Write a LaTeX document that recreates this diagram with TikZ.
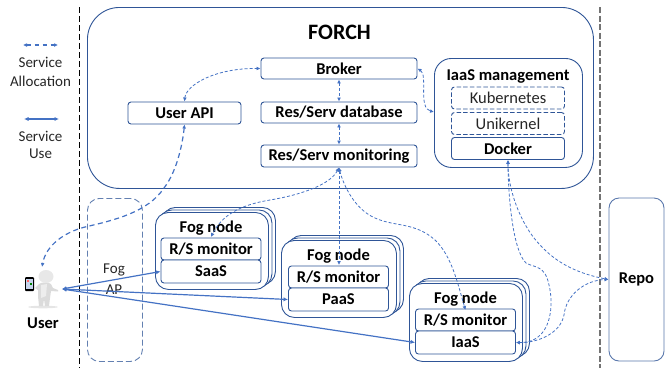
\documentclass[tikz,border=0pt]{standalone}
\usepackage{fontspec}
\setmainfont{Carlito}
\usetikzlibrary{arrows.meta}
\definecolor{edge}{HTML}{2F5597}
\definecolor{arrowblue}{HTML}{4472C4}
\definecolor{txt}{HTML}{262626}
\tikzset{
  x=1pt,y=-1pt,
  rbox/.style={draw=edge,line width=0.9pt,rounded corners=3pt,inner sep=0pt,fill=white,font=\bfseries\fontsize{16.5}{18}\selectfont,text=black},
  dbox/.style={rbox,dashed,dash pattern=on 4.5pt off 2.2pt,font=\fontsize{16.5}{18}\selectfont,text=txt},
  pane/.style={draw=edge,line width=0.9pt,fill=white,inner sep=0pt},
  ttl/.style={font=\bfseries\fontsize{16.5}{18}\selectfont,inner sep=0pt},
  plain/.style={font=\fontsize{15}{17}\selectfont,text=txt,inner sep=0pt},
  alloc/.style={draw=arrowblue,line width=0.8pt,dash pattern=on 3pt off 2pt,{Latex[length=4pt,width=3.8pt]}-{Latex[length=4pt,width=3.8pt]}},
  allocthick/.style={alloc,line width=1.2pt,dash pattern=on 5pt off 3.5pt},
  use/.style={draw=arrowblue,line width=1.2pt,{Latex[length=4.5pt,width=4.2pt]}-{Latex[length=4.5pt,width=4.2pt]}},
}
\newcommand{\fognode}[7]{%
 \node[pane,rounded corners=13pt,minimum width=#3pt-#2pt,minimum height=#5pt-#4pt,anchor=north west] (#1b) at (#2+7,#4-5) {};
 \node[pane,rounded corners=13pt,minimum width=#3pt-#2pt,minimum height=#5pt-#4pt,anchor=north west] (#1m) at (#2+3.5,#4-2.5) {};
 \node[pane,rounded corners=13pt,minimum width=#3pt-#2pt,minimum height=#5pt-#4pt,anchor=north west] (#1) at (#2,#4) {};
 \node[ttl] (#1t) at (#6,#4+16) {Fog node};
 \node[rbox,minimum width=100pt,minimum height=22pt] (#1r) at (#6,#4+37) {R/S monitor};
 \node[rbox,minimum width=100pt,minimum height=23pt] (#1s) at (#6,#4+59.5) {#7};
}
\begin{document}
\begin{tikzpicture}
\useasboundingbox (0,0) rectangle (668,368);
\coordinate (sepAt) at (79,7); \coordinate (sepAb) at (79,368);
\coordinate (sepBt) at (600,7); \coordinate (sepBb) at (600,368);
\draw[black,line width=0.9pt,dash pattern=on 6pt off 3pt] (sepAt) -- (sepAb);
\draw[black!55,line width=1.6pt,dash pattern=on 6pt off 2.5pt] (sepBt) -- (sepBb);
\node[pane,rounded corners=32pt,minimum width=506pt,minimum height=181pt,anchor=north west] (forch) at (87,7) {};
\node[font=\bfseries\fontsize{22}{24}\selectfont,inner sep=0pt] (forcht) at (339.5,32) {FORCH};
\node[rbox,minimum width=156pt,minimum height=21pt] (broker) at (339,68.5) {Broker};
\node[rbox,minimum width=156pt,minimum height=21pt] (db) at (339,112.5) {Res/Serv database};
\node[rbox,minimum width=156pt,minimum height=22pt] (mon) at (339,156) {Res/Serv monitoring};
\node[rbox,minimum width=113pt,minimum height=22pt] (api) at (184.5,113) {User API};
\node[pane,rounded corners=17pt,minimum width=148pt,minimum height=109pt,anchor=north west] (iaasm) at (434,58) {};
\node[ttl] (iaast) at (508,76) {IaaS management};
\node[dbox,minimum width=113pt,minimum height=22pt] (kub) at (508,98) {Kubernetes};
\node[dbox,minimum width=113pt,minimum height=22pt] (uni) at (508,123.5) {Unikernel};
\node[rbox,minimum width=113pt,minimum height=22pt] (dock) at (508,148.5) {Docker};
\node[draw=edge!75,line width=0.9pt,dash pattern=on 6pt off 3pt,rounded corners=12pt,minimum width=55pt,minimum height=163pt,anchor=north west,inner sep=0pt] (ap) at (87,198) {};
\node[plain] (apa) at (114,270) {Fog};
\node[plain] (apb) at (114,290) {AP};
\node[rbox,rounded corners=10pt,minimum width=55pt,minimum height=163pt,draw=edge!80] (repo) at (636.5,279.5) {Repo};
\fognode{fa}{155}{268}{212}{289}{211}{SaaS}
\fognode{fb}{281}{396}{240}{317}{338.5}{PaaS}
\fognode{fc}{409}{522}{283}{361}{465.5}{IaaS}
\node[ttl] (user) at (43,323) {User};
\fill[black!10] (43,307) ellipse (15pt and 1.3pt);
\fill[black!14] (39,284) .. controls (41,282) and (49,282) .. (51,284) -- (53,288) -- (58,290) -- (58,291.5) -- (51,291) -- (50,298) -- (49,306) -- (45,306) -- (44,299) -- (43,306) -- (39,306) -- (38,296) -- (38,290) -- (35,288) -- cycle;
\fill[black!9] (46,276.5) ellipse (7.5pt and 6.5pt);
\fill[black!7] (41,298) -- (41,285) -- (47,284) -- (46,296) -- cycle;
\fill[black,rounded corners=1pt] (25,277) rectangle (34,291);
\fill[white!70!arrowblue] (26.2,279) rectangle (32.8,288.5);
\fill[red!60] (27,280) rectangle (29,282);
\fill[green!50!black] (30,283) rectangle (32,285);
\coordinate (hand) at (62,289);
\coordinate (phonetop) at (42,267);
\coordinate (la) at (23,45); \coordinate (lb) at (58,45);
\coordinate (lc) at (24,119); \coordinate (ld) at (59,119);
\draw[alloc,line width=1.2pt,dash pattern=on 4.5pt off 3.5pt] (la) -- (lb);
\draw[use] (lc) -- (ld);
\node[plain] (l1) at (40.5,62) {Service};
\node[plain] (l2) at (40.5,81) {Allocation};
\node[plain] (l3) at (40.5,136) {Service};
\node[plain] (l4) at (40.5,154) {Use};
\coordinate (faIn) at (211,237);
\coordinate (fbIn) at (339,265);
\coordinate (fcIn) at (465.5,310);
\draw[alloc] (api.north) .. controls (186,85) and (215,68) .. (broker.west);
\draw[allocthick] (api.south) .. controls (183,140) and (178,170) .. (164,188) .. controls (148,212) and (115,220) .. (85,227) .. controls (65,232) and (46,245) .. (phonetop);
\draw[alloc] (broker.east) .. controls (428,75) and (418,108) .. (434,112);
\draw[alloc] (broker.south) -- (db.north);
\draw[alloc] (db.south) -- (mon.north);
\draw[alloc] (mon.south) -- (fbIn);
\draw[alloc] (mon.south) .. controls (330,185) and (300,195) .. (270,200) .. controls (240,205) and (222,215) .. (faIn);
\draw[alloc] (mon.south) .. controls (342,180) and (352,208) .. (375,218) .. controls (395,227) and (415,222) .. (435,240) .. controls (452,256) and (458,285) .. (fcIn);
\draw[alloc] (dock.south) .. controls (508,190) and (512,250) .. (526,263) .. controls (535,268) and (545,265) .. (549,285) .. controls (554,305) and (552,343) .. (fcs.east);
\draw[alloc] (dock.south) .. controls (508,190) and (520,220) .. (534,238) .. controls (550,258) and (570,272) .. (repo.west);
\draw[alloc] (fcs.east) .. controls (535,343) and (560,335) .. (564,315) .. controls (566,295) and (585,280) .. (repo.west);
\draw[use] (hand) -- (fas.west);
\draw[use] (hand) -- (fbs.west);
\draw[use] (hand) -- (fcs.west);
\end{tikzpicture}
\end{document}
